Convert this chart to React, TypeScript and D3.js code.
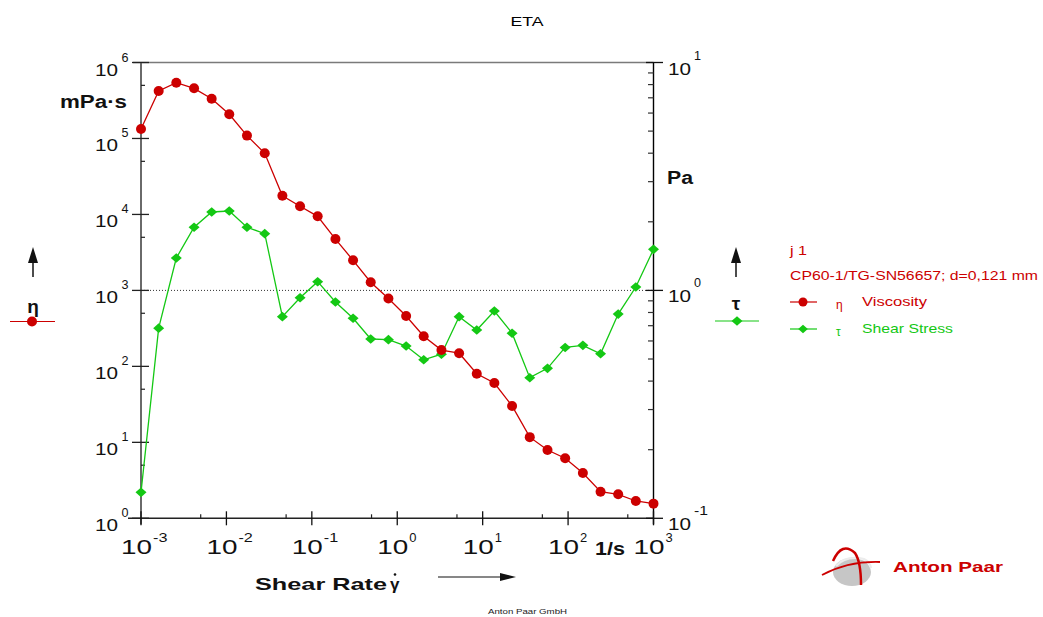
import React from "react";
import * as d3 from "d3";

// ---- data ----
const shearRate = [0.001, 0.00161, 0.00259, 0.00418, 0.00672, 0.0108, 0.0174, 0.0281, 0.0452, 0.0728, 0.117, 0.189, 0.304, 0.489, 0.788, 1.27, 2.04, 3.29, 5.3, 8.53, 13.7, 22.1, 35.6, 57.4, 92.4, 149, 240, 386, 621, 1000];
const viscosity = [133000, 422000, 542000, 457000, 333000, 208000, 109000, 63800, 17600, 12800, 9440, 4740, 2490, 1280, 782, 460, 249, 164, 149, 80, 60.4, 30.1, 11.7, 7.93, 6.17, 3.94, 2.24, 2.07, 1.69, 1.56];
const shearStress = [0.13, 0.683, 1.387, 1.892, 2.208, 2.23, 1.892, 1.774, 0.767, 0.929, 1.092, 0.889, 0.755, 0.612, 0.608, 0.57, 0.496, 0.525, 0.767, 0.67, 0.812, 0.649, 0.414, 0.455, 0.562, 0.574, 0.527, 0.787, 1.035, 1.514];

const xExps = [-3, -2, -1, 0, 1, 2, 3];
const leftExps = [0, 1, 2, 3, 4, 5, 6];
const rightExps = [-1, 0, 1];
const xMinor = [0.005, 0.05, 0.5, 5, 50, 500];
const leftMinor = [5, 50, 500, 5000, 50000, 500000];
const rightMinor = [0.2, 0.3, 0.4, 0.5, 0.6, 0.7, 0.8, 0.9, 2, 3, 4, 5, 6, 7, 8, 9];

const title = "ETA";
const legendHeader1 = "j 1";
const legendHeader2 = "CP60-1/TG-SN56657; d=0,121 mm";
const seriesNames = ["Viscosity", "Shear Stress"];

const RED = "#cc0000";
const GREEN = "#14c814";
const FONT = "'Liberation Sans', Arial, Helvetica, sans-serif";

export default function App() {
  const L = 141, R = 653.5, T = 62.5, B = 518.3;
  const x = d3.scaleLog().domain([1e-3, 1e3]).range([L, R]);
  const yL = d3.scaleLog().domain([1, 1e6]).range([B, T]);
  const yR = d3.scaleLog().domain([0.1, 10]).range([B, T]);

  const etaLine = d3.line<number>().x((_, i) => x(shearRate[i])).y((d) => yL(d))(viscosity) || "";
  const tauLine = d3.line<number>().x((_, i) => x(shearRate[i])).y((d) => yR(d))(shearStress) || "";

  const diamond = (cx: number, cy: number, w = 5.5, h = 4.8) =>
    `M${cx},${cy - h}L${cx + w},${cy}L${cx},${cy + h}L${cx - w},${cy}Z`;

  return (
    <div style={{ position: "absolute", left: 0, top: 0, width: 1043, height: 617, background: "#fff" }}>
      <svg width={1043} height={617} style={{ display: "block" }} fontFamily={FONT}>
        <rect x={0} y={0} width={1043} height={617} fill="#fff" />
        {/* title */}
        <text x={527} y={26} fontSize={13} textAnchor="middle" textLength={33} lengthAdjust="spacingAndGlyphs" fill="#000">{title}</text>

        {/* dotted reference line at 10^3 / 10^0 */}
        <line x1={L} x2={R} y1={yL(1000)} y2={yL(1000)} stroke="#333" strokeWidth={1} strokeDasharray="1,2" />

        {/* frame */}
        <line x1={133} x2={R} y1={T} y2={T} stroke="#7a7a7a" strokeWidth={1.6} />
        <line x1={L} x2={L} y1={T} y2={B + 6} stroke="#6a6a6a" strokeWidth={2} />
        <line x1={128} x2={R} y1={B} y2={B} stroke="#222" strokeWidth={1.4} />
        <line x1={R} x2={R} y1={T} y2={B + 6} stroke="#000" strokeWidth={1.4} />

        {/* left major ticks + labels */}
        {leftExps.map((e) => {
          const yy = yL(Math.pow(10, e));
          return (
            <g key={"l" + e}>
              <line x1={132} x2={149} y1={yy} y2={yy} stroke="#222" strokeWidth={1.3} />
              <text x={118} y={yy + 13} fontSize={17} textAnchor="end" textLength={23} lengthAdjust="spacingAndGlyphs" fill="#111">10</text>
              <text x={121.5} y={yy - 1} fontSize={13} textLength={7} lengthAdjust="spacingAndGlyphs" fill="#111">{String(e)}</text>
            </g>
          );
        })}
        {leftMinor.map((v) => (
          <line key={"lm" + v} x1={L} x2={L + 4} y1={yL(v)} y2={yL(v)} stroke="#222" strokeWidth={1.2} />
        ))}

        {/* right ticks + labels */}
        {rightExps.map((e) => {
          const yy = yR(Math.pow(10, e));
          const s = String(e);
          return (
            <g key={"r" + e}>
              <line x1={646} x2={663} y1={yy} y2={yy} stroke="#111" strokeWidth={1.3} />
              <text x={668} y={yy + 12} fontSize={17} textLength={23} lengthAdjust="spacingAndGlyphs" fill="#111">10</text>
              <text x={694} y={yy - 3} fontSize={13} textLength={s.length * 7} lengthAdjust="spacingAndGlyphs" fill="#111">{s}</text>
            </g>
          );
        })}
        {rightMinor.map((v) => (
          <line key={"rm" + v} x1={R - 5.5} x2={R} y1={yR(v)} y2={yR(v)} stroke="#333" strokeWidth={1.2} />
        ))}

        {/* bottom ticks + labels */}
        {xExps.map((e) => {
          const xx = x(Math.pow(10, e));
          const s = String(e);
          return (
            <g key={"b" + e}>
              <line x1={xx} x2={xx} y1={B - 7} y2={B + 7} stroke="#111" strokeWidth={1.3} />
              <text x={xx - 20} y={554} fontSize={19.5} textLength={31} lengthAdjust="spacingAndGlyphs" fill="#111">10</text>
              <text x={xx + 12} y={542} fontSize={13.5} textLength={s.length * 7.2} lengthAdjust="spacingAndGlyphs" fill="#111">{s}</text>
            </g>
          );
        })}
        {xMinor.map((v) => (
          <line key={"bm" + v} x1={x(v)} x2={x(v)} y1={B - 4} y2={B} stroke="#222" strokeWidth={1.2} />
        ))}
        <text x={595} y={555} fontSize={19} fontWeight="bold" textLength={30} lengthAdjust="spacingAndGlyphs" fill="#111">1/s</text>

        {/* axis titles */}
        <text x={60} y={108} fontSize={18} fontWeight="bold" textLength={67} lengthAdjust="spacingAndGlyphs" fill="#111">mPa·s</text>
        <text x={667} y={184} fontSize={18} fontWeight="bold" textLength={26} lengthAdjust="spacingAndGlyphs" fill="#111">Pa</text>

        <text x={255} y={590} fontSize={17} fontWeight="bold" textLength={132} lengthAdjust="spacingAndGlyphs" fill="#111">Shear Rate</text>
        <text x={390} y={590} fontSize={17} fontWeight="bold" fill="#111">γ</text>
        <circle cx={395} cy={574.5} r={1.3} fill="#111" />
        <line x1={438} x2={502} y1={577} y2={577} stroke="#111" strokeWidth={1.2} />
        <path d="M500,573L516,577L500,581Z" fill="#111" />
        <text x={488} y={614} fontSize={7.5} textLength={79} lengthAdjust="spacingAndGlyphs" fill="#222">Anton Paar GmbH</text>

        {/* left axis legend */}
        <line x1={33} x2={33} y1={258} y2={277} stroke="#111" strokeWidth={1.5} />
        <path d="M28,263L33,247L38,263Z" fill="#111" />
        <text x={33} y={313} fontSize={19} fontWeight="bold" textAnchor="middle" fill="#111">η</text>
        <line x1={10} x2={55} y1={321.5} y2={321.5} stroke={RED} strokeWidth={1.2} />
        <circle cx={32} cy={321.5} r={5} fill={RED} />

        {/* right axis legend */}
        <line x1={736} x2={736} y1={258} y2={277} stroke="#111" strokeWidth={1.5} />
        <path d="M731,263L736,247L741,263Z" fill="#111" />
        <text x={736} y={310} fontSize={19} fontWeight="bold" textAnchor="middle" fill="#111">τ</text>
        <line x1={715} x2={759} y1={321} y2={321} stroke={GREEN} strokeWidth={1.2} />
        <path d={diamond(737, 321)} fill={GREEN} />

        {/* legend block */}
        <text x={790} y={255} fontSize={13} textLength={17} lengthAdjust="spacingAndGlyphs" fill={RED}>{legendHeader1}</text>
        <text x={790} y={280} fontSize={13} textLength={248} lengthAdjust="spacingAndGlyphs" fill={RED}>{legendHeader2}</text>
        <line x1={790} x2={817} y1={302} y2={302} stroke={RED} strokeWidth={1.2} />
        <circle cx={803} cy={302} r={4.5} fill={RED} />
        <text x={836} y={309} fontSize={12} fill={RED}>η</text>
        <text x={862} y={306} fontSize={13} textLength={65} lengthAdjust="spacingAndGlyphs" fill={RED}>{seriesNames[0]}</text>
        <line x1={790} x2={817} y1={329} y2={329} stroke={GREEN} strokeWidth={1.2} />
        <path d={diamond(803, 329, 4.8, 4.2)} fill={GREEN} />
        <text x={836} y={336} fontSize={12} fill={GREEN}>τ</text>
        <text x={862} y={333} fontSize={13} textLength={91} lengthAdjust="spacingAndGlyphs" fill={GREEN}>{seriesNames[1]}</text>

        {/* data */}
        <path d={tauLine} fill="none" stroke={GREEN} strokeWidth={1.3} />
        <path d={etaLine} fill="none" stroke={RED} strokeWidth={1.3} />
        {shearStress.map((v, i) => (
          <path key={"t" + i} d={diamond(x(shearRate[i]), yR(v))} fill={GREEN} />
        ))}
        {viscosity.map((v, i) => (
          <circle key={"e" + i} cx={x(shearRate[i])} cy={yL(v)} r={5} fill={RED} />
        ))}

        {/* logo */}
        <ellipse cx={852} cy={572} rx={19} ry={14} fill="#c6c6c6" />
        <path d="M836,566 Q846,555 864,559 Q870,562 871,568" fill="none" stroke="#ececec" strokeWidth={2.2} />
        <path d="M833,561 Q842,541 855,553 Q861,562 861,585" fill="none" stroke={RED} strokeWidth={2.5} />
        <path d="M822,575 Q848,561 880,562" fill="none" stroke={RED} strokeWidth={1.8} />
        <text x={893} y={572} fontSize={14.5} fontWeight="bold" textLength={110} lengthAdjust="spacingAndGlyphs" fill={RED}>Anton Paar</text>
      </svg>
    </div>
  );
}
